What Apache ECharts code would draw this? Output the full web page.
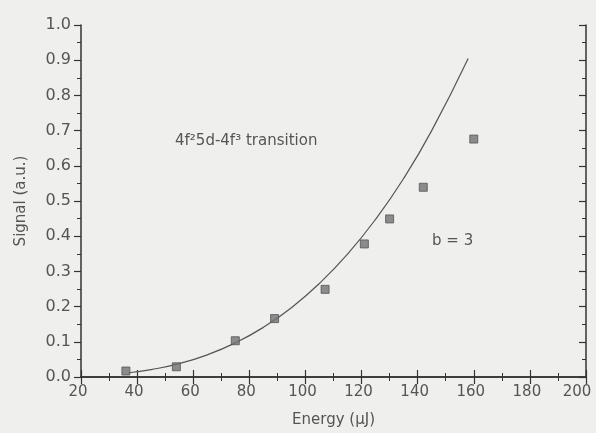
<!DOCTYPE html>
<html>
<head>
<meta charset="utf-8">
<script src="https://cdn.jsdelivr.net/npm/echarts@6/dist/echarts.min.js"></script>
<style>
html,body{margin:0;padding:0;background:#efefed;}
#c{width:596px;height:433px;}
</style>
</head>
<body>
<div id="c"></div>
<script>
// Measured data points (Energy in µJ, Signal in a.u.)
const energy = [36, 54, 75, 89, 107, 121, 130, 142, 160];
const signal = [0.017, 0.029, 0.103, 0.166, 0.249, 0.378, 0.449, 0.539, 0.676];
// Fit curve (b = 3)
const fitEnergy = [37, 45, 55, 65, 75, 85, 95, 105, 115, 125, 135, 145, 158];
const fitSignal = [0.012, 0.021, 0.038, 0.063, 0.097, 0.141, 0.197, 0.266, 0.349, 0.448, 0.564, 0.700, 0.905];
// Axis ticks
const xTicks = [20, 40, 60, 80, 100, 120, 140, 160, 180, 200];
const yTicks = [0.0, 0.1, 0.2, 0.3, 0.4, 0.5, 0.6, 0.7, 0.8, 0.9, 1.0];

const FONT = 'DejaVu Sans';
const TXT = '#555';
const AX = '#333';

const chart = echarts.init(document.getElementById('c'), null, {renderer: 'canvas'});

const baseAxisLine = {show: true, lineStyle: {color: AX, width: 1.5}};
const xMax = xTicks[xTicks.length - 1];

chart.setOption({
  backgroundColor: '#efefed',
  animation: false,
  grid: {left: 81, right: 10, top: 25, bottom: 56, containLabel: false, outerBoundsMode: 'none'},
  xAxis: [
    {
      type: 'value', position: 'bottom',
      min: xTicks[0], max: xMax, interval: 20,
      axisLine: baseAxisLine,
      axisTick: {show: true, inside: true, length: 7, lineStyle: {color: AX, width: 1.2}},
      minorTick: {show: true, splitNumber: 2, length: 4, lineStyle: {color: AX, width: 1}},
      splitLine: {show: false},
      axisLabel: {
        color: TXT, fontFamily: FONT, fontSize: 15, margin: 8,
        formatter: v => (v === xMax ? '{last|' + v + '}' : '{n|' + v + '}'),
        rich: {
          n: {color: TXT, fontFamily: FONT, fontSize: 15, padding: [0, 6, 0, 0]},
          last: {color: TXT, fontFamily: FONT, fontSize: 15, padding: [0, 18, 0, 0]}
        }
      },
      name: 'Energy (\u03bcJ)', nameLocation: 'middle', nameGap: 36,
      nameTextStyle: {color: TXT, fontFamily: FONT, fontSize: 15}
    },
    {
      type: 'value', position: 'top',
      min: xTicks[0], max: xMax, interval: 20,
      axisLine: baseAxisLine,
      axisTick: {show: true, inside: true, length: 7, lineStyle: {color: AX, width: 1.2}},
      minorTick: {show: true, splitNumber: 2, length: 4, lineStyle: {color: AX, width: 1}},
      splitLine: {show: false},
      axisLabel: {show: false}
    }
  ],
  yAxis: [
    {
      type: 'value', position: 'left',
      min: yTicks[0], max: yTicks[yTicks.length - 1], interval: 0.1,
      axisLine: baseAxisLine,
      axisTick: {show: true, inside: false, length: 7, lineStyle: {color: AX, width: 1.2}},
      minorTick: {show: true, splitNumber: 2, length: 4, lineStyle: {color: AX, width: 1}},
      splitLine: {show: false},
      axisLabel: {color: TXT, fontFamily: FONT, fontSize: 16, margin: 10,
        formatter: v => v.toFixed(1)},
      name: 'Signal (a.u.)', nameLocation: 'middle', nameGap: 52, nameRotate: 90,
      nameTextStyle: {color: TXT, fontFamily: FONT, fontSize: 15}
    },
    {
      type: 'value', position: 'right',
      min: yTicks[0], max: yTicks[yTicks.length - 1], interval: 0.1,
      axisLine: baseAxisLine,
      axisTick: {show: true, inside: true, length: 7, lineStyle: {color: AX, width: 1.2}},
      minorTick: {show: true, splitNumber: 2, length: 4, lineStyle: {color: AX, width: 1}},
      splitLine: {show: false},
      axisLabel: {show: false}
    }
  ],
  series: [
    {
      type: 'line',
      data: fitEnergy.map((x, i) => [x, fitSignal[i]]),
      smooth: true,
      showSymbol: false,
      lineStyle: {color: '#555', width: 1.2},
      z: 2
    },
    {
      type: 'scatter',
      data: energy.map((x, i) => [x, signal[i]]),
      symbol: 'rect',
      symbolSize: 8,
      itemStyle: {color: '#727272', borderColor: '#555', borderWidth: 1},
      z: 3
    }
  ],
  graphic: [
    {
      type: 'text', left: 175, top: 134,
      style: {text: '4f\u00b25d-4f\u00b3 transition', fill: TXT, font: '15px "' + FONT + '"'}
    },
    {
      type: 'text', left: 432, top: 234,
      style: {text: 'b = 3', fill: TXT, font: '15px "' + FONT + '"'}
    }
  ]
});
</script>
</body>
</html>
